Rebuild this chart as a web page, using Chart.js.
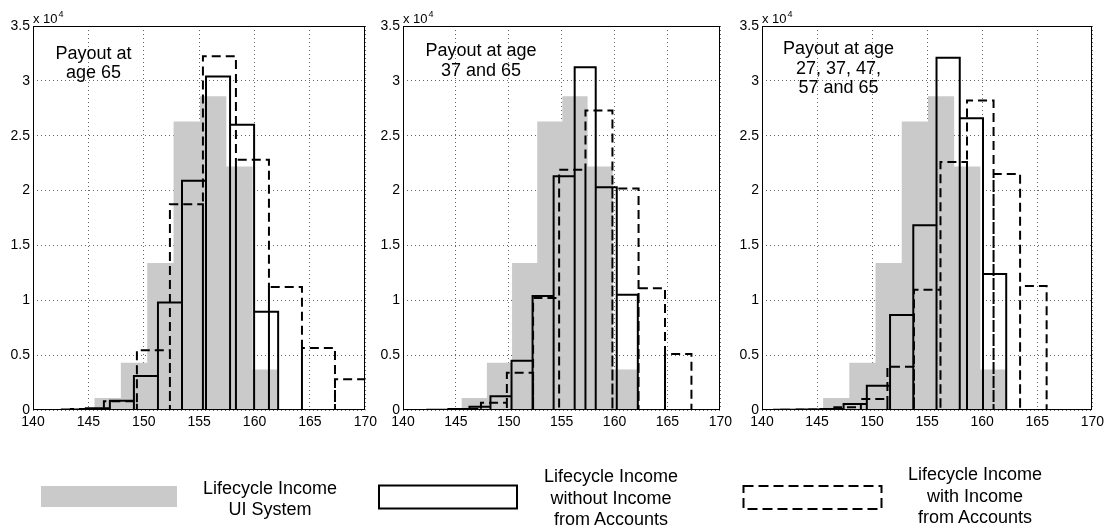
<!DOCTYPE html>
<html>
<head>
<meta charset="utf-8">
<script src="https://cdn.jsdelivr.net/npm/chart.js@4.4.0/dist/chart.umd.min.js"></script>
<style>
body{margin:0;background:#fff;width:1109px;height:529px;position:relative;overflow:hidden;font-family:"Liberation Sans",Arial,Helvetica,sans-serif}
canvas{position:absolute;top:0}
.leg{position:absolute;font-size:18px;line-height:21.7px;text-align:center;color:#000;white-space:nowrap}
svg{position:absolute;left:0;top:0}
</style>
</head>
<body>
<canvas id="p1"></canvas>
<canvas id="p2"></canvas>
<canvas id="p3"></canvas>

<svg width="1109" height="529">
  <rect x="41" y="486" width="136" height="21" fill="#cacaca"/>
  <rect x="379" y="485.5" width="138" height="23" fill="none" stroke="#000" stroke-width="2"/>
  <rect x="743.5" y="486" width="138" height="23" fill="none" stroke="#000" stroke-width="2" stroke-dasharray="10 5"/>
</svg>
<div class="leg" style="left:190px;width:160px;top:477.5px">Lifecycle Income<br>UI System</div>
<div class="leg" style="left:531px;width:160px;top:465.8px">Lifecycle Income<br>without Income<br>from Accounts</div>
<div class="leg" style="left:895px;width:160px;top:464px">Lifecycle Income<br>with Income<br>from Accounts</div>

<script>
// axis ticks
const xTicks = [140, 145, 150, 155, 160, 165, 170]
const yTicks = [0, 5000, 10000, 15000, 20000, 25000, 30000, 35000]
const yTickLabels = ['0', '0.5', '1', '1.5', '2', '2.5', '3', '3.5']

// Lifecycle Income UI System (same in every panel)
const uiEdges = [140.79, 143.17, 145.55, 147.93, 150.31, 152.69, 155.07, 157.45, 159.83, 162.21]
const uiCounts = [0, 0, 1100, 4300, 13400, 26300, 28600, 22200, 3700]

// payout at age 65
const noAcc65Edges = [140.43, 142.6, 144.77, 146.94, 149.11, 151.28, 153.45, 155.62, 157.79, 159.96, 162.13, 164.3, 166.47, 168.64, 170.81]
const noAcc65Counts = [10, 40, 150, 850, 3100, 9800, 20900, 30400, 26000, 8950, 0, 0, 0, 0]
const acc65Edges = [140.44, 143.42, 146.4, 149.38, 152.36, 155.34, 158.32, 161.3, 164.28, 167.26, 170.24]
const acc65Counts = [0, 80, 800, 5450, 18750, 32250, 22800, 11200, 5650, 2800]

// payout at age 37 and 65
const noAcc37Edges = [142.3, 144.29, 146.28, 148.27, 150.26, 152.25, 154.24, 156.23, 158.22, 160.21, 162.2, 164.19, 166.18, 168.17]
const noAcc37Counts = [30, 80, 300, 1250, 4500, 10400, 21300, 31250, 20300, 10500, 0, 0, 0]
const acc37Edges = [142.4, 144.9, 147.37, 149.82, 152.3, 154.76, 157.25, 159.8, 162.27, 164.77, 167.27]
const acc37Counts = [0, 100, 650, 3400, 10200, 21900, 27300, 20200, 11100, 5100]

// payout at age 27, 37, 47, 57 and 65
const noAccAllEdges = [141.08, 143.19, 145.3, 147.41, 149.52, 151.63, 153.74, 155.85, 157.96, 160.07, 162.18, 164.29, 166.4, 168.51]
const noAccAllCounts = [30, 50, 100, 550, 2200, 8650, 16850, 32100, 26600, 12400, 0, 0, 0]
const accAllEdges = [141.75, 144.16, 146.57, 148.98, 151.39, 153.8, 156.21, 158.62, 161.03, 163.44, 165.85]
const accAllCounts = [20, 50, 250, 1000, 3950, 10950, 22600, 28200, 21500, 11300]

const notes = [
    ['Payout at', 'age 65'],
    ['Payout at age', '37 and 65'],
    ['Payout at age', '27, 37, 47,', '57 and 65']
]

const FONT = '"Liberation Sans", Arial, Helvetica, sans-serif'
Chart.defaults.font.family = FONT
Chart.defaults.font.size = 14
Chart.defaults.color = '#000'

const Y_W = 40
const PAD_R = 14

// histogram bars as one outline: each bin goes up, across, down
function outline(edges, counts){
    let pts = []
    for (let i = 0; i < counts.length; i++){
        pts.push({x: edges[i], y: 0})
        pts.push({x: edges[i], y: counts[i]})
        pts.push({x: edges[i+1], y: counts[i]})
        pts.push({x: edges[i+1], y: 0})
    }
    return pts
}

const framePlugin = {
    id: 'frame',
    afterDraw(chart, args, opts){
        const {ctx, chartArea: a, scales} = chart
        ctx.save()
        ctx.strokeStyle = '#000'
        ctx.lineWidth = 1
        ctx.setLineDash([])
        ctx.strokeRect(Math.round(a.left) + 0.5, Math.round(a.top) + 0.5,
            Math.round(a.right - a.left) - 1, Math.round(a.bottom - a.top) - 1)

        ctx.fillStyle = '#000'
        ctx.textAlign = 'left'
        ctx.textBaseline = 'alphabetic'
        ctx.font = '13px ' + FONT
        ctx.fillText('x 10', a.left, a.top - 3)
        let w = ctx.measureText('x 10').width
        ctx.font = '9px ' + FONT
        ctx.fillText('4', a.left + w + 1, a.top - 9)

        ctx.font = '18px ' + FONT
        ctx.textAlign = 'center'
        ctx.textBaseline = 'middle'
        let x = scales.x.getPixelForValue(opts.x)
        let y = scales.y.getPixelForValue(opts.y)
        opts.lines.forEach((t, i) => ctx.fillText(t, x, y + i * 19.5))
        ctx.restore()
    }
}

function makePanel(id, left, right, noAccEdges, noAccCounts, accEdges, accCounts, note){
    let canvas = document.getElementById(id)
    canvas.width = Y_W + (right - left) + PAD_R
    canvas.height = 440
    canvas.style.left = (left - Y_W) + 'px'

    return new Chart(canvas.getContext('2d'), {
        type: 'line',
        data: {
            datasets: [
                {
                    label: 'Lifecycle Income with Income from Accounts',
                    data: outline(accEdges, accCounts),
                    borderColor: '#000',
                    borderWidth: 2,
                    borderDash: [9, 5],
                    pointRadius: 0,
                    tension: 0,
                    fill: false,
                    order: 1
                },
                {
                    label: 'Lifecycle Income without Income from Accounts',
                    data: outline(noAccEdges, noAccCounts),
                    borderColor: '#000',
                    borderWidth: 2,
                    pointRadius: 0,
                    tension: 0,
                    fill: false,
                    order: 2
                },
                {
                    label: 'Lifecycle Income UI System',
                    data: outline(uiEdges, uiCounts),
                    borderWidth: 0,
                    borderColor: 'rgba(0,0,0,0)',
                    backgroundColor: '#cacaca',
                    pointRadius: 0,
                    tension: 0,
                    fill: 'origin',
                    order: 3
                }
            ]
        },
        options: {
            responsive: false,
            animation: false,
            events: [],
            layout: {
                padding: {left: 0, right: PAD_R, top: 26, bottom: 0}
            },
            plugins: {
                legend: {display: false},
                tooltip: {enabled: false},
                frame: note
            },
            scales: {
                x: {
                    type: 'linear',
                    min: 140,
                    max: 170,
                    afterBuildTicks: (scale) => { scale.ticks = xTicks.map(v => ({value: v})) },
                    afterFit: (scale) => { scale.height = 30 },
                    grid: {color: 'rgba(0,0,0,0.6)', lineWidth: 1, drawTicks: false},
                    border: {display: false, dash: [1, 3]},
                    ticks: {padding: 4, maxRotation: 0, autoSkip: false}
                },
                y: {
                    type: 'linear',
                    min: 0,
                    max: 35000,
                    afterBuildTicks: (scale) => { scale.ticks = yTicks.map(v => ({value: v})) },
                    afterFit: (scale) => { scale.width = Y_W },
                    grid: {color: 'rgba(0,0,0,0.6)', lineWidth: 1, drawTicks: false},
                    border: {display: false, dash: [1, 3]},
                    ticks: {
                        padding: 3,
                        autoSkip: false,
                        callback: (v, i) => yTickLabels[i]
                    }
                }
            }
        },
        plugins: [framePlugin]
    })
}

makePanel('p1', 33, 367, noAcc65Edges, noAcc65Counts, acc65Edges, acc65Counts,
    {x: 145.46, y: 32450, lines: notes[0]})
makePanel('p2', 403, 722, noAcc37Edges, noAcc37Counts, acc37Edges, acc37Counts,
    {x: 147.37, y: 32700, lines: notes[1]})
makePanel('p3', 762, 1094, noAccAllEdges, noAccAllCounts, accAllEdges, accAllCounts,
    {x: 146.95, y: 32900, lines: notes[2]})
</script>
</body>
</html>
